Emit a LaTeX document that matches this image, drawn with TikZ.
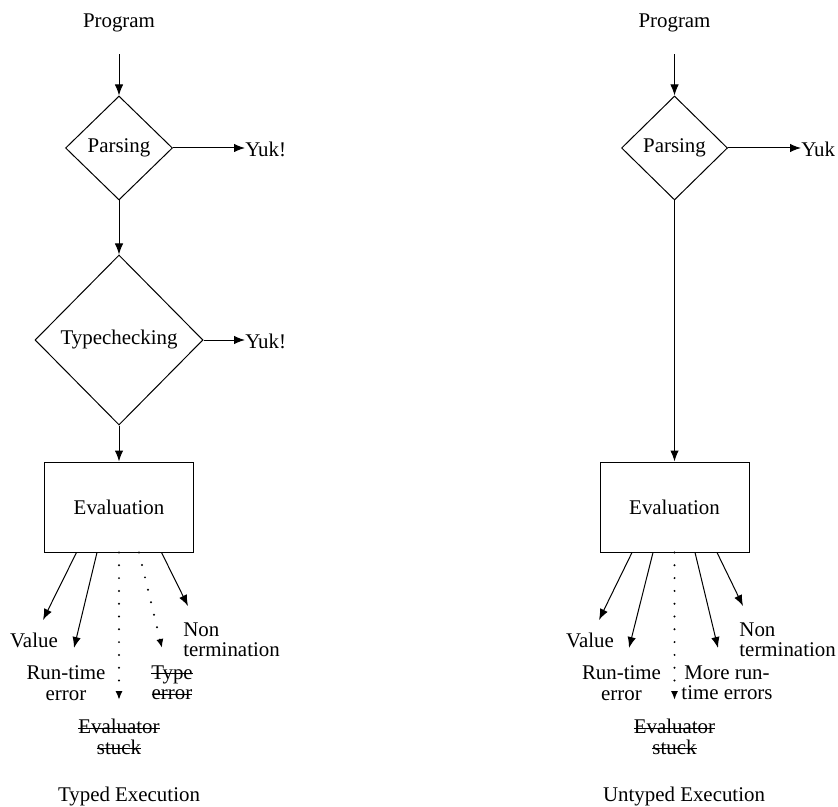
\documentclass[tikz,border=0pt]{standalone}
\usepackage{fontspec}
\setmainfont{Liberation Serif}
\usetikzlibrary{shapes.geometric,arrows.meta}
\newcommand{\struck}[1]{\setbox0\hbox{#1}\rlap{\rule[0.55ex]{\wd0}{0.5pt}}\box0}
\tikzset{
  flow/.style={line width=0.5pt,-{Latex[length=5.5pt,width=4.2pt]}},
  stuckflow/.style={line width=1.1pt,line cap=round,dash pattern=on 0pt off 6.4pt,
    -{Latex[length=4.5pt,width=3.6pt]}},
  test/.style={diamond,draw,line width=0.5pt,inner sep=0pt},
  stage/.style={rectangle,draw,line width=0.5pt,minimum width=74.5pt,minimum height=45pt},
  outcome/.style={inner sep=0pt,align=center},
  reject/.style={inner sep=0pt,anchor=west},
}
\begin{document}
\begin{tikzpicture}[x=0.5pt,y=-0.5pt]
  \fontsize{10.45}{10.25}\selectfont
  \useasboundingbox (0,0) rectangle (838,806);
  % typed side
  \node[inner sep=0pt] (prgL) at (119,23) {Program};
  \node[test,minimum width=53.5pt,minimum height=52pt] (prsL) at (119,148) {\raisebox{-1.5pt}{Parsing}};
  \node[reject] (yukA) at (245,149) {Yuk!};
  \node[test,minimum width=84pt,minimum height=85pt] (tcL) at (119,340) {\raisebox{-1.5pt}{Typechecking}};
  \node[reject] (yukB) at (245,341) {Yuk!};
  \node[stage] (evL) at (119,507) {Evaluation};
  \draw[flow,shorten <=11pt] (prgL) -- (prsL.north);
  \draw[flow] (prsL.east) -- (prsL.east -| yukA.west);
  \draw[flow] (prsL.south) -- (tcL.north);
  \draw[flow] (tcL.east) -- (tcL.east -| yukB.west);
  \draw[flow] (tcL.south) -- (evL.north);
  \coordinate (valL) at (43,620);
  \coordinate (rteL) at (74,648);
  \coordinate (stkL) at (119,700);
  \coordinate (tyeL) at (162,648);
  \coordinate (ntmL) at (188,606);
  \draw[flow] ([xshift=-21.25pt]evL.south) -- (valL);
  \draw[flow] ([xshift=-11pt]evL.south) -- (rteL);
  \draw[stuckflow] (evL.south) -- (stkL);
  \draw[stuckflow] ([xshift=10pt]evL.south) -- (tyeL);
  \draw[flow] ([xshift=21.25pt]evL.south) -- (ntmL);
  \node[outcome] (valLt) at (34,640) {Value};
  \node[outcome] (rteLt) at (66,683) {Run-time\\error};
  \node[outcome] (tyeLt) at (172,683) {\struck{Type}\\\struck{error}};
  \node[outcome,anchor=west,align=left] (ntmLt) at (183,640) {Non\\termination};
  \node[outcome] (stkLt) at (119,737) {\struck{Evaluator}\\\struck{stuck}};
  \node[inner sep=0pt] (ttlL) at (129,796) {Typed Execution};
  % untyped side
  \node[inner sep=0pt] (prgR) at (674.5,23) {Program};
  \node[test,minimum width=53pt,minimum height=52pt] (prsR) at (674.5,148) {\raisebox{-1.5pt}{Parsing}};
  \node[reject] (yukC) at (801,149) {Yuk};
  \node[stage] (evR) at (674.5,507) {Evaluation};
  \draw[flow,shorten <=11pt] (prgR) -- (prsR.north);
  \draw[flow] (prsR.east) -- (prsR.east -| yukC.west);
  \draw[flow] (prsR.south) -- (evR.north);
  \coordinate (valR) at (599,620);
  \coordinate (rteR) at (629,648);
  \coordinate (stkR) at (674.5,700);
  \coordinate (mreR) at (718,648);
  \coordinate (ntmR) at (743,606);
  \draw[flow] ([xshift=-21.25pt]evR.south) -- (valR);
  \draw[flow] ([xshift=-10.75pt]evR.south) -- (rteR);
  \draw[stuckflow] (evR.south) -- (stkR);
  \draw[flow] ([xshift=10.25pt]evR.south) -- (mreR);
  \draw[flow] ([xshift=21.25pt]evR.south) -- (ntmR);
  \node[outcome] (valRt) at (590,640) {Value};
  \node[outcome] (rteRt) at (621.5,683) {Run-time\\error};
  \node[outcome] (mreRt) at (727,683) {More run-\\time errors};
  \node[outcome,anchor=west,align=left] (ntmRt) at (739,640) {Non\\termination};
  \node[outcome] (stkRt) at (674.5,737) {\struck{Evaluator}\\\struck{stuck}};
  \node[inner sep=0pt] (ttlR) at (684,796) {Untyped Execution};
\end{tikzpicture}
\end{document}
